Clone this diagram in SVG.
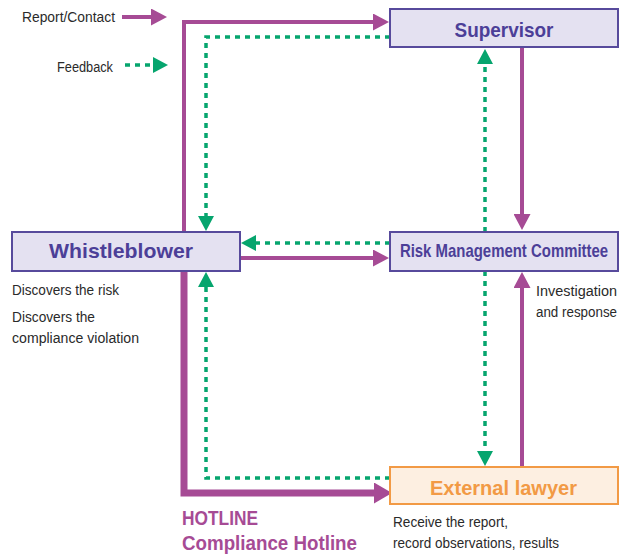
<svg xmlns="http://www.w3.org/2000/svg" width="627" height="555" viewBox="0 0 627 555">
<style>
.box{fill:#e4e1f1;stroke:#574a9c;stroke-width:2}
.ext{fill:#fdefe1;stroke:#f29a45;stroke-width:2}
.title{font-family:"Liberation Sans",Arial,sans-serif;font-weight:bold;fill:#4c3f98}
.small{font-family:"Liberation Sans",Arial,sans-serif;font-size:14px;fill:#2a2a2a}
.rep{fill:none;stroke:#a64b95;stroke-width:4}
.hot{fill:none;stroke:#a64b95;stroke-width:7}
.fb{fill:none;stroke:#06a56e;stroke-width:3.5;stroke-dasharray:5 5}
</style>
<defs>
<marker id="ap" markerUnits="userSpaceOnUse" markerWidth="16" markerHeight="17" refX="8" refY="8.5" orient="auto"><path d="M0,0 L16,8.5 L0,17 z" fill="#a64b95"/></marker>
<marker id="ah" markerUnits="userSpaceOnUse" markerWidth="18" markerHeight="21" refX="8" refY="10.5" orient="auto"><path d="M0,0 L18,10.5 L0,21 z" fill="#a64b95"/></marker>
<marker id="ag" markerUnits="userSpaceOnUse" markerWidth="15" markerHeight="16" refX="7" refY="8" orient="auto"><path d="M0,0 L15,8 L0,16 z" fill="#06a56e"/></marker>
</defs>
<g id="legend">
<text class="small" x="115" y="22" text-anchor="end" textLength="93" lengthAdjust="spacingAndGlyphs">Report/Contact</text>
<path class="rep" d="M122,17 H159" marker-end="url(#ap)"/>
<text class="small" x="113" y="72" text-anchor="end" textLength="56" lengthAdjust="spacingAndGlyphs">Feedback</text>
<path class="fb" d="M125,65 H160" marker-end="url(#ag)"/>
</g>
<g id="connectors">
<path class="rep" d="M184,232 V22 H381" marker-end="url(#ap)"/>
<path class="fb" d="M390,37 H206 V223" marker-end="url(#ag)"/>
<path class="fb" d="M390,243 H249" marker-end="url(#ag)"/>
<path class="rep" d="M240,258 H381" marker-end="url(#ap)"/>
<path class="rep" d="M522,47 V222" marker-end="url(#ap)"/>
<path class="fb" d="M485,232 V57" marker-end="url(#ag)"/>
<path class="fb" d="M485,271 V458" marker-end="url(#ag)"/>
<path class="rep" d="M522,467 V280" marker-end="url(#ap)"/>
<path class="fb" d="M390,478 H206 V280" marker-end="url(#ag)"/>
<path class="hot" d="M184,271 V493 H382" marker-end="url(#ah)"/>
</g>
<g id="supervisor">
<rect class="box" x="390" y="9" width="228" height="38"/>
<text class="title" x="504" y="37" font-size="21" text-anchor="middle" textLength="99" lengthAdjust="spacingAndGlyphs">Supervisor</text>
</g>
<g id="whistleblower">
<rect class="box" x="12" y="232" width="228" height="39"/>
<text class="title" x="121" y="258" font-size="21" text-anchor="middle" textLength="144" lengthAdjust="spacingAndGlyphs">Whistleblower</text>
<text class="small" x="12" y="295" textLength="107" lengthAdjust="spacingAndGlyphs">Discovers the risk</text>
<text class="small" x="12" y="322" textLength="83" lengthAdjust="spacingAndGlyphs">Discovers the</text>
<text class="small" x="12" y="343" textLength="127" lengthAdjust="spacingAndGlyphs">compliance violation</text>
</g>
<g id="risk-committee">
<rect class="box" x="390" y="232" width="228" height="39"/>
<text class="title" transform="translate(504,257) scale(0.83,1)" x="0" y="0" font-size="18" text-anchor="middle">Risk Management Committee</text>
<text class="small" x="536" y="296" textLength="81" lengthAdjust="spacingAndGlyphs">Investigation</text>
<text class="small" x="536" y="317" textLength="81" lengthAdjust="spacingAndGlyphs">and response</text>
</g>
<g id="external-lawyer">
<rect class="ext" x="390" y="467" width="228" height="37"/>
<text class="title" x="503.5" y="495" font-size="20" text-anchor="middle" style="fill:#f29a45" textLength="147" lengthAdjust="spacingAndGlyphs">External lawyer</text>
<text class="small" x="393" y="527" textLength="115" lengthAdjust="spacingAndGlyphs">Receive the report,</text>
<text class="small" x="393" y="548" textLength="166" lengthAdjust="spacingAndGlyphs">record observations, results</text>
</g>
<g id="hotline">
<text class="title" x="182" y="525" font-size="20" style="fill:#a64b95" textLength="76" lengthAdjust="spacingAndGlyphs">HOTLINE</text>
<text class="title" x="182" y="550" font-size="20" style="fill:#a64b95" textLength="175" lengthAdjust="spacingAndGlyphs">Compliance Hotline</text>
</g>
</svg>
